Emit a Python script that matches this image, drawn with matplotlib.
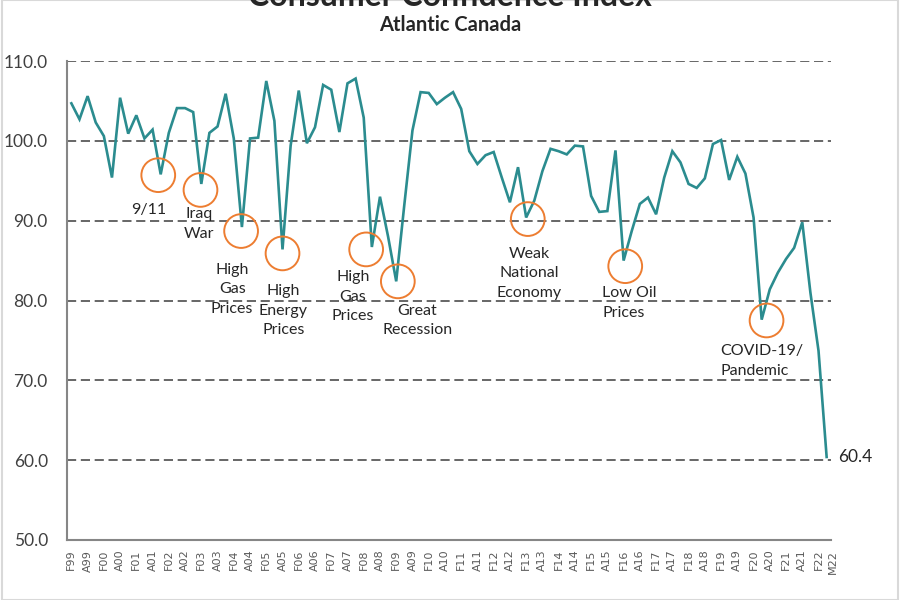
import numpy as np
import matplotlib
matplotlib.use("Agg")
import matplotlib.pyplot as plt
from matplotlib.patches import Rectangle
from matplotlib.transforms import offset_copy

# ---------------- data ----------------
years = [f"{y % 100:02d}" for y in range(1999, 2023)]
quarter_codes = ["F", "M", "A", "N"]
quarters = [q + y for y in years for q in quarter_codes][:94]   # F99 ... M22

cci = [104.7, 102.7, 105.6, 102.3, 100.6, 95.4, 105.4, 100.9, 103.2, 100.3,
       101.4, 95.8, 101.0, 104.1, 104.1, 103.6, 94.6, 101.0, 101.8, 105.9,
       100.3, 89.2, 100.3, 100.4, 107.5, 102.5, 86.4, 99.4, 106.3, 99.7,
       101.7, 107.0, 106.4, 101.1, 107.2, 107.8, 102.9, 86.7, 93.0, 88.0,
       82.4, 92.0, 101.3, 106.1, 106.0, 104.6, 105.4, 106.1, 104.0, 98.7,
       97.1, 98.2, 98.6, 95.4, 92.3, 96.7, 90.4, 92.5, 96.2, 99.0,
       98.7, 98.3, 99.4, 99.3, 93.1, 91.1, 91.2, 98.8, 85.0, 88.7,
       92.1, 92.9, 90.8, 95.4, 98.7, 97.3, 94.6, 94.1, 95.3, 99.6,
       100.1, 95.1, 98.0, 95.9, 90.4, 77.6, 81.4, 83.5, 85.2, 86.6,
       89.8, 81.0, 73.7, 60.4]

tick_labels = [q for q in quarters if q[0] in ("F", "A")] + [quarters[-1]]
y_ticks = [50, 60, 70, 80, 90, 100, 110]

event_labels = ["9/11", "Iraq\nWar", "High\nGas\nPrices", "High\nEnergy\nPrices",
                "High\nGas\nPrices", "Great\nRecession", "Weak\nNational\nEconomy",
                "Low Oil\nPrices", "COVID-19/\nPandemic"]

# ---------------- layout / style ----------------
TEAL = "#2B8C8F"
ORANGE = "#ED7D31"
TXT = "#262626"
FONT = ["Lato", "DejaVu Sans"]

# circle centers (category index, value) and label anchors
circle_pos = [(10.7, 95.7), (15.9, 93.85), (20.9, 88.7), (26.0, 85.9), (36.3, 86.4),
              (40.2, 82.4), (56.2, 90.2), (68.2, 84.3), (85.6, 77.5)]
label_pos = [(9.5, 91.3, "center"), (15.7, 89.6, "center"), (19.8, 81.4, "center"),
             (26.1, 78.7, "center"), (34.65, 80.5, "center"), (42.6, 77.5, "center"),
             (56.4, 83.4, "center"), (65.4, 79.7, "left"), (79.9, 72.4, "left")]

fig = plt.figure(figsize=(9, 6), dpi=100)
ax = fig.add_axes([67.3 / 900, 1 - 540 / 600, (830.7 - 67.3) / 900, (540 - 61) / 600])

x = np.arange(len(cci))
ax.plot(x, cci, color=TEAL, lw=1.9, solid_joinstyle="miter", zorder=3)

ax.set_xlim(-0.5, len(cci) - 0.5)
ax.set_ylim(50, 110)

# gridlines
for yv in y_ticks[1:]:
    ax.axhline(yv, color="#4d4d4d", lw=1.2, dashes=(5.5, 2.8), zorder=1)

# spines
for s in ("top", "right"):
    ax.spines[s].set_visible(False)
for s in ("left", "bottom"):
    ax.spines[s].set_color("#868686")
    ax.spines[s].set_linewidth(1.5)

# y ticks
ax.set_yticks(y_ticks)
ax.set_yticklabels([f"{v:.1f}" for v in y_ticks], fontsize=12.5, color="#404040",
                   family=FONT)
ax.tick_params(axis="y", length=0, pad=14)

# x ticks
tick_pos = [i for i, q in enumerate(quarters) if q[0] in ("F", "A")] + [len(quarters) - 1]
ax.set_xticks(tick_pos)
ax.set_xticklabels(tick_labels, rotation=90, fontsize=8, color="#595959",
                   family="DejaVu Sans")
ax.tick_params(axis="x", length=0, pad=7)
last = ax.get_xticklabels()[-1]
last.set_transform(offset_copy(last.get_transform(), fig=fig, x=6, y=0, units="dots"))

# event circles
cx = [p[0] for p in circle_pos]
cy = [p[1] for p in circle_pos]
ax.scatter(cx, cy, s=590, facecolors="none", edgecolors=ORANGE, linewidths=1.4, zorder=4)

for (lx, ly, ha), txt in zip(label_pos, event_labels):
    ax.text(lx, ly, txt, ha=ha, va="center", multialignment=ha, fontsize=11.5,
            color=TXT, family=FONT, linespacing=1.5, zorder=5)

# last value label
ax.annotate(f"{cci[-1]:.1f}", xy=(x[-1], cci[-1]), xytext=(8, 0), textcoords="offset points",
            ha="left", va="center", fontsize=12.5, color=TXT, family=FONT,
            annotation_clip=False)

# titles
fig.text(0.5, 1 - 6 / 600, "Consumer Confidence Index", ha="center", va="baseline",
         fontsize=23, fontweight="bold", color=TXT, family=FONT)
fig.text(0.5, 1 - 25 / 600, "Atlantic Canada", ha="center", va="center",
         fontsize=14.5, fontweight="bold", color=TXT, family=FONT)

# outer border
fig.patches.append(Rectangle((2 / 900, 0.0), 896 / 900, 1.0, transform=fig.transFigure,
                             fill=False, edgecolor="#d9d9d9", lw=1.5))

fig.savefig("out.png", dpi=100)
